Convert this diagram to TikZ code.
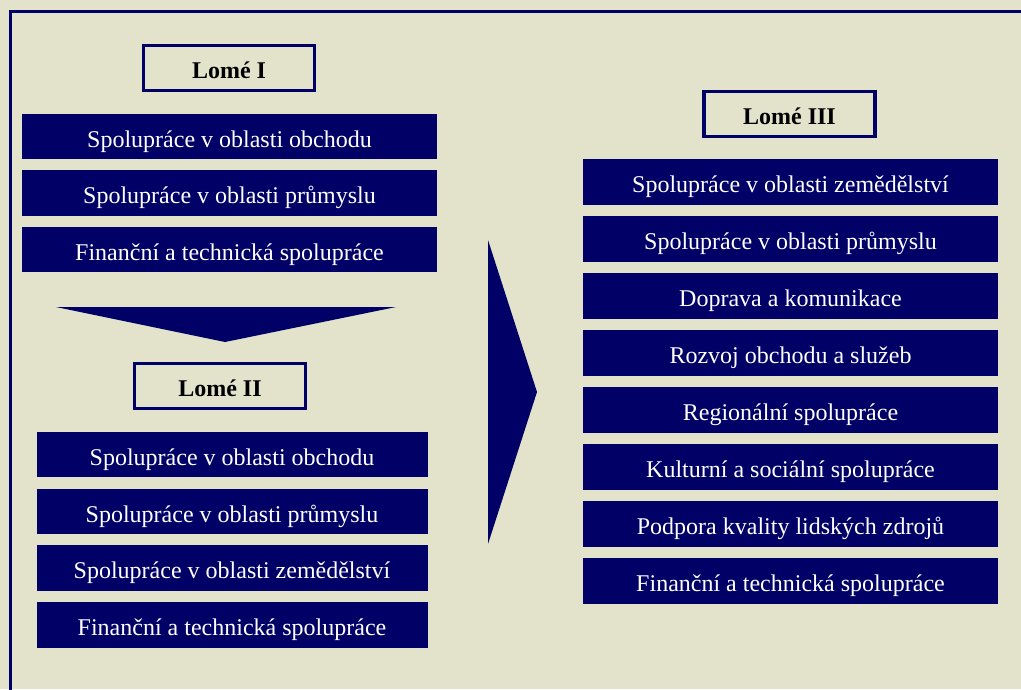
\documentclass[tikz,border=0pt]{standalone}
\usepackage{fontspec}
\setmainfont{Liberation Serif}
\usepackage{tikz}

\definecolor{navy}{RGB}{0,0,102}
\definecolor{paper}{RGB}{227,227,204}

\tikzset{
  topic/.style={fill=navy, text=white, inner sep=0pt, minimum height=45.5pt,
    text height=21pt, text depth=0pt, font=\fontsize{24}{28}\selectfont},
  title/.style={draw=navy, line width=3.5pt, fill=paper, inner sep=0pt,
    minimum width=171pt, minimum height=45pt, text height=20pt, text depth=0pt,
    font=\fontsize{24}{28}\selectfont\bfseries}
}

\begin{document}
\begin{tikzpicture}[x=1pt, y=-1pt]
        % Page and frame
        \useasboundingbox (0,0) rectangle (1021,689);
        \clip (0,0) rectangle (1021,689);
        \fill [paper] (0,0) rectangle (1021,689);
        \draw [navy, line width=3.5pt] (10.5,700) -- (10.5,11.5) -- (1030,11.5);

        % Lome I
        \node [title] (lome1) at (229,68) {Lomé I};
        \node [topic, minimum width=415pt] (a1) at (229.5,136.5) {Spolupráce v oblasti obchodu};
        \node [topic, minimum width=415pt] (a2) at (229.5,193) {Spolupráce v oblasti průmyslu};
        \node [topic, minimum width=415pt] (a3) at (229.5,249.5) {Finanční a technická spolupráce};

        % Arrow down to Lome II
        \fill [navy] (56,307) -- (396,307) -- (225,342) -- cycle;

        % Lome II
        \node [title] (lome2) at (220,386) {Lomé II};
        \node [topic, minimum width=391pt] (b1) at (232,454.5) {Spolupráce v oblasti obchodu};
        \node [topic, minimum width=391pt] (b2) at (232,511.5) {Spolupráce v oblasti průmyslu};
        \node [topic, minimum width=391pt] (b3) at (232,568) {Spolupráce v oblasti zemědělství};
        \node [topic, minimum width=391pt] (b4) at (232,625) {Finanční a technická spolupráce};

        % Arrow right to Lome III
        \fill [navy] (488,240) -- (537,392) -- (488,544) -- cycle;

        % Lome III
        \node [title] (lome3) at (789.5,114) {Lomé III};
        \foreach \txt [count=\i] in {Spolupráce v oblasti zemědělství,
            Spolupráce v oblasti průmyslu, Doprava a komunikace,
            Rozvoj obchodu a služeb, Regionální spolupráce,
            Kulturní a sociální spolupráce, Podpora kvality lidských zdrojů,
            Finanční a technická spolupráce}
          \node [topic, minimum width=415pt, minimum height=46pt] (c\i) at (790.5,125+57*\i) {\txt};
    \end{tikzpicture}
\end{document}
